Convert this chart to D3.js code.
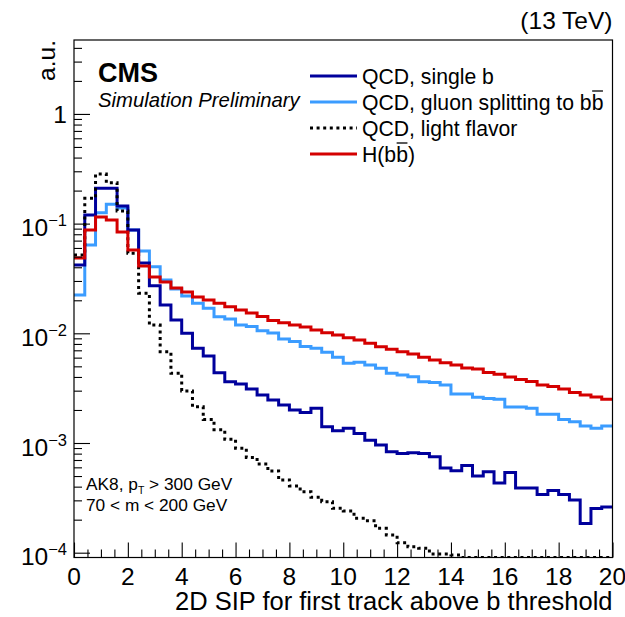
<!DOCTYPE html>
<html>
<head>
<meta charset="utf-8">
<script src="https://cdn.jsdelivr.net/npm/d3@7"></script>
<style>
  html, body { margin: 0; padding: 0; background: #fff; }
  svg { display: block; }
  text { font-family: "Liberation Sans", Arial, Helvetica, sans-serif; fill: #000; }
</style>
</head>
<body>
<svg id="chart" width="625" height="617"></svg>
<script>
// ---------------- data ----------------
const xRange = [0, 20];
const nBins = 50;
const yTickValues = [1e-4, 1e-3, 1e-2, 1e-1, 1];
const yTickExponents = ["-4", "-3", "-2", "-1", null];
const xTickValues = [0, 2, 4, 6, 8, 10, 12, 14, 16, 18, 20];

const seriesNames = ["QCD, single b", "QCD, gluon splitting to b", "QCD, light flavor", "H(b"];

const singleB = [
  0.0420, 0.1197, 0.210, 0.210, 0.1445, 0.0875, 0.0438, 0.0272, 0.0181, 0.0132,
  0.0100, 0.00730, 0.00621, 0.00438, 0.00362, 0.00345, 0.00310, 0.00274, 0.00247, 0.00222,
  0.00200, 0.00190, 0.00207, 0.00141, 0.00129, 0.00136, 0.00122, 0.00106, 0.000960, 0.000834,
  0.000802, 0.000817, 0.000802, 0.000750, 0.000591, 0.000558, 0.000624, 0.000500, 0.000547, 0.000431,
  0.000538, 0.000389, 0.000389, 0.000340, 0.000369, 0.000340, 0.000302, 0.000185, 0.000253, 0.000261
];
const gluonSplit = [
  0.0223, 0.0638, 0.1256, 0.150, 0.1387, 0.0875, 0.0562, 0.0405, 0.0306, 0.0254,
  0.0219, 0.01875, 0.0169, 0.01416, 0.0135, 0.0119, 0.01153, 0.01057, 0.01007, 0.00887,
  0.00841, 0.00759, 0.00730, 0.00671, 0.00604, 0.00533, 0.00545, 0.00514, 0.00480, 0.00432,
  0.00417, 0.00402, 0.00362, 0.00357, 0.00338, 0.00280, 0.00280, 0.00261, 0.00255, 0.00250,
  0.00213, 0.00213, 0.00207, 0.00183, 0.00183, 0.00164, 0.00156, 0.00143, 0.00136, 0.00143
];
const lightFlavor = [
  0.0518, 0.170, 0.283, 0.236, 0.130, 0.0536, 0.0232, 0.0119, 0.00679, 0.00432,
  0.00298, 0.00214, 0.00164, 0.00132, 0.00108, 0.000896, 0.000738, 0.000645, 0.000556, 0.000461,
  0.000406, 0.000360, 0.000320, 0.000292, 0.000254, 0.000240, 0.000206, 0.000196, 0.000167, 0.000145,
  0.000123, 0.000113, 0.000110, 0.0000973, 0.0000973, 0.0000953, 0.00005, 0.00005, 0.00005, 0.00005,
  0.00005, 0.00005, 0.00005, 0.00005, 0.00005, 0.00005, 0.00005, 0.00005, 0.00005, 0.00005
];
const higgsBB = [
  0.0485, 0.0875, 0.1148, 0.108, 0.0837, 0.0574, 0.0411, 0.0326, 0.0294, 0.0259,
  0.0238, 0.0214, 0.0201, 0.01875, 0.0175, 0.0163, 0.0153, 0.0142, 0.0131, 0.0125,
  0.0119, 0.0114, 0.0107, 0.0101, 0.00966, 0.00912, 0.00869, 0.00811, 0.00755, 0.00715,
  0.00679, 0.00647, 0.00604, 0.00571, 0.00540, 0.00514, 0.00483, 0.00473, 0.00440, 0.00423,
  0.00400, 0.00379, 0.00364, 0.00338, 0.00327, 0.00310, 0.00288, 0.00274, 0.00262, 0.00250
];

// ---------------- layout ----------------
const plot = { left: 74, right: 612.5, top: 40, bottom: 557.5 };
const svg = d3.select("#chart");

const x = d3.scaleLinear().domain(xRange).range([plot.left, plot.right]);
const y = d3.scaleLog().domain([9.04e-5, 4.72]).range([plot.bottom, plot.top]).clamp(true);

const binW = (xRange[1] - xRange[0]) / nBins;
const edges = d3.range(nBins + 1).map(i => xRange[0] + i * binW);

svg.append("defs").append("clipPath").attr("id", "clip")
  .append("rect").attr("x", plot.left).attr("y", plot.top)
  .attr("width", plot.right - plot.left).attr("height", plot.bottom - plot.top);

const series = [
  { name: seriesNames[0], values: singleB, color: "#00009c", dash: null, bar: false },
  { name: seriesNames[1], values: gluonSplit, color: "#3b9cff", dash: null, bar: true },
  { name: seriesNames[2], values: lightFlavor, color: "#000000", dash: "3 3.6", bar: false },
  { name: seriesNames[3], values: higgsBB, color: "#d40000", dash: null, bar: true, close: ")" }
];

const line = d3.line().x(d => x(d[0])).y(d => y(d[1])).curve(d3.curveStepAfter);

const g = svg.append("g").attr("clip-path", "url(#clip)");
[1, 0, 2, 3].forEach(si => {
  const s = series[si];
  const pts = s.values.map((v, i) => [edges[i], v]);
  pts.push([edges[nBins], s.values[nBins - 1]]);
  g.append("path")
    .attr("d", line(pts))
    .attr("fill", "none")
    .attr("stroke", s.color)
    .attr("stroke-width", 3)
    .attr("stroke-dasharray", s.dash)
    .attr("stroke-linejoin", "miter");
});

// ---------------- axes / frame ----------------
const axisG = svg.append("g");
axisG.append("rect")
  .attr("x", plot.left).attr("y", plot.top)
  .attr("width", plot.right - plot.left).attr("height", plot.bottom - plot.top)
  .attr("fill", "none").attr("stroke", "#000").attr("stroke-width", 1.2);

const yMinor = [];
[1e-4, 1e-3, 1e-2, 1e-1, 1].forEach(dec => {
  for (let k = 2; k <= 9; k++) {
    const v = dec * k;
    if (v <= y.domain()[1]) yMinor.push(v);
  }
});
const yAxisMaj = d3.axisLeft(y).tickValues(yTickValues).tickSize(-16).tickFormat("");
const yAxisMin = d3.axisLeft(y).tickValues(yMinor).tickSize(-8).tickFormat("");
[yAxisMaj, yAxisMin].forEach(ax => {
  const gg = axisG.append("g").attr("transform", `translate(${plot.left},0)`).call(ax);
  gg.select(".domain").remove();
  gg.selectAll("line").attr("stroke", "#000").attr("stroke-width", 1.1);
});

yTickValues.forEach((v, i) => {
  const ty = y(v);
  const exp = yTickExponents[i];
  if (exp === null) {
    svg.append("text").attr("x", 67).attr("y", ty + 9)
      .attr("text-anchor", "end").attr("font-size", 24.5).text("1");
  } else {
    const t = svg.append("text").attr("x", 67).attr("y", ty + 12.5)
      .attr("text-anchor", "end").attr("font-size", 24.5);
    t.append("tspan").text("10");
    t.append("tspan").attr("font-size", 16.5).attr("dy", -10).text(exp.replace("-", "\u2212"));
  }
});

const xMinor = d3.range(0, 20.001, 0.5).filter(v => Math.abs(v / 2 - Math.round(v / 2)) > 1e-6);
const xAxisMaj = d3.axisBottom(x).tickValues(xTickValues).tickSize(-15).tickFormat("");
const xAxisMin = d3.axisBottom(x).tickValues(xMinor).tickSize(-8).tickFormat("");
[xAxisMaj, xAxisMin].forEach(ax => {
  const gg = axisG.append("g").attr("transform", `translate(0,${plot.bottom})`).call(ax);
  gg.select(".domain").remove();
  gg.selectAll("line").attr("stroke", "#000").attr("stroke-width", 1.1);
});
xTickValues.forEach(v => {
  svg.append("text").attr("x", x(v)).attr("y", 584.5)
    .attr("text-anchor", "middle").attr("font-size", 24.5).text(v);
});

svg.append("text").attr("x", plot.right).attr("y", 610)
  .attr("text-anchor", "end").attr("font-size", 25.5)
  .text("2D SIP for first track above b threshold");
svg.append("text")
  .attr("transform", `translate(55,${plot.top}) rotate(-90)`)
  .attr("text-anchor", "end").attr("font-size", 24.5).text("a.u.");

svg.append("text").attr("x", plot.right).attr("y", 29)
  .attr("text-anchor", "end").attr("font-size", 24.5).text("(13 TeV)");

svg.append("text").attr("x", 98).attr("y", 82)
  .attr("font-size", 27).attr("font-weight", "bold").text("CMS");
svg.append("text").attr("x", 98).attr("y", 107)
  .attr("font-size", 20.3).attr("font-style", "italic").text("Simulation Preliminary");

// legend
const legY = [76, 102, 128, 154];
const legend = svg.append("g");
series.forEach((s, i) => {
  legend.append("line")
    .attr("x1", 310).attr("x2", 357).attr("y1", legY[i]).attr("y2", legY[i])
    .attr("stroke", s.color).attr("stroke-width", 3)
    .attr("stroke-dasharray", s.dash);
  const base = legY[i] + 7.5;
  const t = legend.append("text").attr("x", 362).attr("y", base).attr("font-size", 21.2);
  t.append("tspan").text(s.name);
  if (i === 1 || i === 3) {
    const bb = t.append("tspan").text("b");
    if (s.close) t.append("tspan").text(s.close);
    const box = bb.node().getBBox();
    legend.append("line")
      .attr("x1", box.x + 0.5).attr("x2", box.x + box.width - 0.5)
      .attr("y1", base - 18.5).attr("y2", base - 18.5)
      .attr("stroke", "#000").attr("stroke-width", 1.3);
  }
});

// selection text
const sel1 = svg.append("text").attr("x", 86).attr("y", 490).attr("font-size", 17.3);
sel1.append("tspan").text("AK8, p");
sel1.append("tspan").attr("font-size", 10.5).attr("dy", 4).text("T");
sel1.append("tspan").attr("dy", -4).text(" > 300 GeV");
svg.append("text").attr("x", 86).attr("y", 511).attr("font-size", 17.3).text("70 < m < 200 GeV");
</script>
</body>
</html>
